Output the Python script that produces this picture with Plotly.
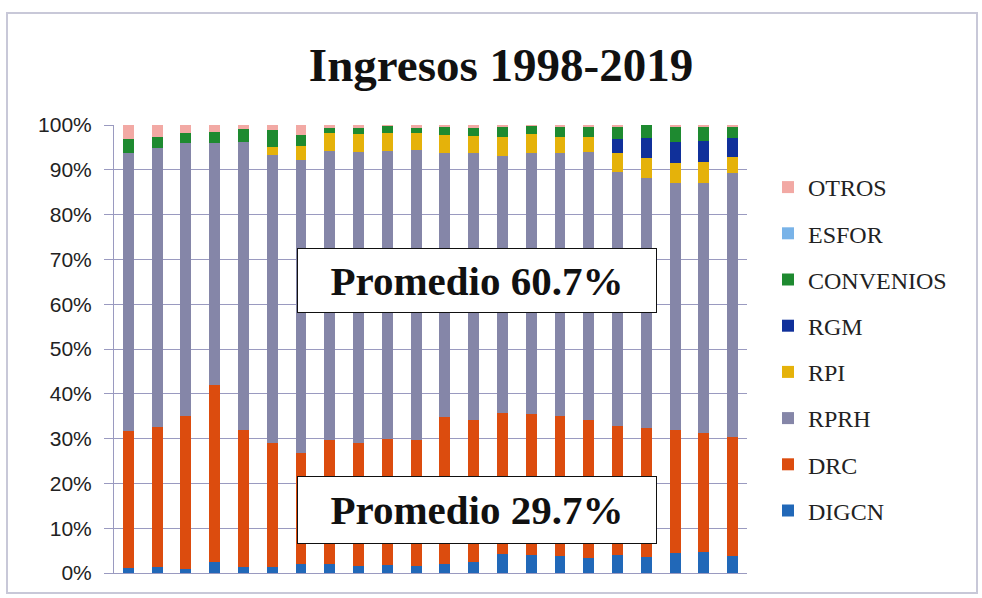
import plotly.graph_objects as go

years = [str(y) for y in range(1998, 2020)]

DIGCN = [1.1, 1.3, 1.0, 2.5, 1.3, 1.3, 2.0, 2.0, 1.5, 1.8, 1.6, 2.0, 2.5, 4.2, 4.0, 3.8, 3.3, 4.0, 3.6, 4.5, 4.6, 3.8]
DRC = [30.6, 31.3, 34.0, 39.5, 30.6, 27.7, 24.8, 27.7, 27.5, 28.1, 28.1, 32.8, 31.7, 31.5, 31.6, 31.2, 30.9, 28.8, 28.7, 27.5, 26.6, 26.6]
RPRH = [62.1, 62.3, 61.0, 54.0, 64.3, 64.3, 65.4, 64.5, 65.0, 64.3, 64.7, 58.9, 59.5, 57.3, 58.1, 58.7, 59.8, 56.7, 55.9, 55.1, 55.9, 58.9]
RPI = [0, 0, 0, 0, 0, 1.8, 3.1, 4.0, 4.0, 4.0, 3.8, 4.1, 3.8, 4.3, 4.3, 3.6, 3.3, 4.2, 4.4, 4.4, 4.6, 3.6]
RGM = [0, 0, 0, 0, 0, 0, 0, 0, 0, 0, 0, 0, 0, 0, 0, 0, 0, 3.2, 4.4, 4.7, 4.7, 4.2]
CONVENIOS = [3.1, 2.4, 2.2, 2.4, 2.9, 3.8, 2.5, 1.1, 1.3, 1.6, 1.1, 1.8, 1.8, 2.3, 1.8, 2.3, 2.3, 2.7, 3.0, 3.4, 3.2, 2.5]
ESFOR = [0, 0, 0, 0, 0, 0, 0, 0, 0, 0, 0, 0, 0, 0, 0, 0, 0, 0, 0, 0, 0, 0]
OTROS = [3.1, 2.7, 1.8, 1.6, 0.9, 1.1, 2.2, 0.7, 0.7, 0.2, 0.7, 0.4, 0.7, 0.4, 0.2, 0.4, 0.4, 0.4, 0.0, 0.4, 0.4, 0.4]

y_ticks = [0, 10, 20, 30, 40, 50, 60, 70, 80, 90, 100]
y_tick_labels = [f"{v}%" for v in y_ticks]

avg_rprh_label = "Promedio 60.7%"
avg_drc_label = "Promedio 29.7%"
title_text = "Ingresos 1998-2019"

series = [
    ("DIGCN", DIGCN, "#2168B8"),
    ("DRC", DRC, "#DC4C0E"),
    ("RPRH", RPRH, "#8586A8"),
    ("RPI", RPI, "#E5B20A"),
    ("RGM", RGM, "#10309A"),
    ("CONVENIOS", CONVENIOS, "#1E8A30"),
    ("ESFOR", ESFOR, "#79B3E8"),
    ("OTROS", OTROS, "#F2A9A4"),
]

W, H = 982, 598
L, R, T, B = 114, 235, 125, 25
pw = W - L - R
ph = H - T - B

fig = go.Figure()
n = len(series)
for i, (name, vals, col) in enumerate(series):
    fig.add_trace(go.Bar(
        x=years, y=vals, name=name, legendgroup=name,
        legendrank=n - i,
        marker=dict(color=col, line=dict(width=0)),
    ))

def px_to_paper_x(px):
    return (px - L) / pw

def px_to_paper_y(py):
    return (H - B - py) / ph

grid_col = "#9a9ac0"

fig.update_layout(
    width=W, height=H,
    margin=dict(l=L, r=R, t=T, b=B, autoexpand=False),
    paper_bgcolor="white", plot_bgcolor="white",
    barmode="stack", bargap=0.62,
    title=dict(
        text=title_text, xref="container", yref="container",
        x=501 / W, y=1 - 65 / H, xanchor="center", yanchor="middle",
        font=dict(family="Liberation Serif", size=47, color="#111111", weight="bold"),
    ),
    xaxis=dict(
        showticklabels=False, showgrid=False, ticks="",
        showline=True, linecolor=grid_col, linewidth=1,
        zeroline=False,
    ),
    yaxis=dict(
        range=[0, 100], tickvals=y_ticks, ticktext=y_tick_labels,
        showgrid=True, gridcolor=grid_col, gridwidth=1,
        showline=True, linecolor=grid_col, linewidth=1,
        ticks="outside", ticklen=9, tickcolor=grid_col,
        ticklabelstandoff=8,
        tickfont=dict(family="Liberation Sans", size=21, color="#222222"),
        zeroline=False,
    ),
    legend=dict(
        x=px_to_paper_x(768), y=px_to_paper_y(349),
        xanchor="left", yanchor="middle",
        traceorder="grouped", tracegroupgap=12,
        font=dict(family="Liberation Serif", size=24, color="#222222"),
        itemwidth=30, bgcolor="rgba(0,0,0,0)",
    ),
    annotations=[
        dict(
            text=avg_rprh_label, xref="paper", yref="paper",
            x=px_to_paper_x(477.5), y=px_to_paper_y(280),
            xanchor="center", yanchor="middle", showarrow=False,
            width=358, height=63, borderpad=0, borderwidth=1,
            bordercolor="#111111", bgcolor="white",
            font=dict(family="Liberation Serif", size=41, color="#111111", weight="bold"),
        ),
        dict(
            text=avg_drc_label, xref="paper", yref="paper",
            x=px_to_paper_x(477.5), y=px_to_paper_y(509.5),
            xanchor="center", yanchor="middle", showarrow=False,
            width=358, height=66, borderpad=0, borderwidth=1,
            bordercolor="#111111", bgcolor="white",
            font=dict(family="Liberation Serif", size=41, color="#111111", weight="bold"),
        ),
    ],
    shapes=[
        dict(
            type="rect", xref="paper", yref="paper",
            x0=px_to_paper_x(7), x1=px_to_paper_x(977),
            y0=px_to_paper_y(593), y1=px_to_paper_y(13),
            line=dict(color="#c8c8d8", width=2), fillcolor="rgba(0,0,0,0)",
            layer="below",
        )
    ],
)

fig.write_html(
    "out.html",
    config={"displayModeBar": False},
    post_script="document.body.style.margin='0px';",
)
